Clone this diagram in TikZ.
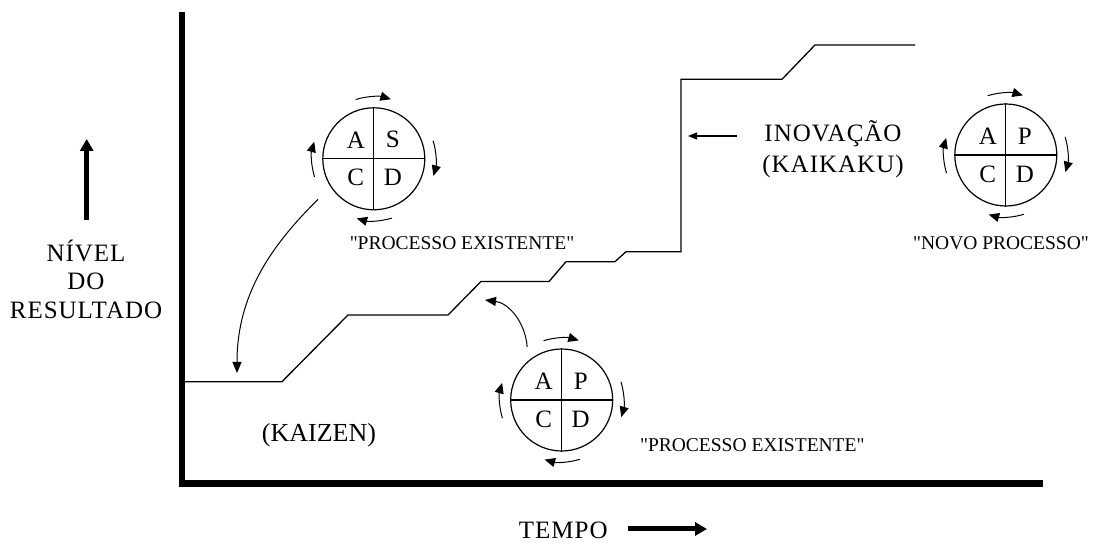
\documentclass[tikz,border=0pt]{standalone}
\usepackage{fontspec}
\setmainfont{Liberation Serif}
\newfontfamily\widefont[LetterSpace=4]{Liberation Serif}
\newfontfamily\capfont[Ligatures=TeXOff]{Liberation Serif}
\usetikzlibrary{arrows.meta}

\begin{document}
\begin{tikzpicture}[x=1pt,y=1pt,
  axis/.style={line width=6.5pt},
  stair/.style={line width=1.3pt, line join=miter},
  pdca/.style={circle, draw, line width=1.2pt, minimum size=102pt, inner sep=0pt},
  letter/.style={font=\fontsize{25}{25}\selectfont, inner sep=0pt},
  cyc/.style={line width=1pt, -{Triangle[length=10.5pt,width=9pt]}},
  bendarrow/.style={line width=1pt, -{Triangle[length=11pt,width=9pt]}},
  biglabel/.style={font=\widefont\fontsize{25}{29}\selectfont, inner sep=0pt, anchor=base},
  smalllabel/.style={font=\capfont\fontsize{19.5}{22}\selectfont, inner sep=0pt, anchor=base},
  thickarrow/.style={line width=5pt, -{Triangle[length=12pt,width=13pt]}}
]
\useasboundingbox (0,0) rectangle (1098,543);

% axes
\coordinate (ytop) at (182,531.3);
\coordinate (origin) at (182,59.5);
\coordinate (xend) at (1043,59.5);
\draw[axis] (ytop) -- (origin) -- (xend);

% result level: small kaizen steps, then the kaikaku jump
\draw[stair] (182,161.3) -- (282,161.3) -- (348,228) -- (448,228)
  -- (481,261.5) -- (549,261.5) -- (566,281.3) -- (615,281.3)
  -- (626,291.3) -- (681,291.3) -- (681,463.7) -- (782,463.7)
  -- (815,498) -- (915,498);

% PDCA wheels
\node[pdca] (c1) at (373.8,384.2) {};
\node[pdca] (c2) at (561.7,143) {};
\node[pdca] (c3) at (1005.8,388) {};
\foreach \c in {c1,c2,c3}{
  \draw[line width=1.2pt] (\c.north) -- (\c.south);
  \draw[line width=1.2pt] (\c.west) -- (\c.east);
  \draw[cyc] ([shift={(107:62)}]\c.center) arc[start angle=107, end angle=74, radius=62];
  \draw[cyc] ([shift={(17:62)}]\c.center) arc[start angle=17, end angle=-16, radius=62];
  \draw[cyc] ([shift={(-73:62)}]\c.center) arc[start angle=-73, end angle=-106, radius=62];
  \draw[cyc] ([shift={(197:62)}]\c.center) arc[start angle=197, end angle=164, radius=62];
}
\node[letter] (c1a) at ([shift={(-18,19)}]c1.center) {A};
\node[letter] (c1s) at ([shift={(19,19)}]c1.center) {S};
\node[letter] (c1c) at ([shift={(-18,-19)}]c1.center) {C};
\node[letter] (c1d) at ([shift={(19,-19)}]c1.center) {D};
\node[letter] (c2a) at ([shift={(-18,19)}]c2.center) {A};
\node[letter] (c2p) at ([shift={(19,19)}]c2.center) {P};
\node[letter] (c2c) at ([shift={(-18,-19)}]c2.center) {C};
\node[letter] (c2d) at ([shift={(19,-19)}]c2.center) {D};
\node[letter] (c3a) at ([shift={(-18,19)}]c3.center) {A};
\node[letter] (c3p) at ([shift={(19,19)}]c3.center) {P};
\node[letter] (c3c) at ([shift={(-18,-19)}]c3.center) {C};
\node[letter] (c3d) at ([shift={(19,-19)}]c3.center) {D};

% wheel captions
\node[smalllabel] (p1) at (462,293) {"PROCESSO EXISTENTE"};
\node[smalllabel] (p2) at (752.3,91.3) {"PROCESSO EXISTENTE"};
\node[smalllabel] (p3) at (1001,293) {"NOVO PROCESSO"};

% curved arrows from the wheels to the curve
\coordinate (kz) at (237,170);
\draw[bendarrow] ([shift={(216:69)}]c1.center) .. controls (273,299) and (237,250) .. (kz);
\coordinate (st) at (485,243);
\draw[bendarrow] ([shift={(123:63.3)}]c2.center) .. controls (525,222) and (508,240) .. (st);

% innovation label and its arrow
\node[biglabel] (inov) at (833,401.3) {INOVAÇÃO};
\node[biglabel] (kaik) at (833,370) {(KAIKAKU)};
\coordinate (inA) at (737,407);
\coordinate (inB) at (688,407);
\draw[line width=1.2pt, -{Triangle[length=9pt,width=7pt]}] (inA) -- (inB);

\node[biglabel, font=\fontsize{26}{29}\selectfont] (kaizen) at (319,101.3) {(KAIZEN)};

% axis titles
\node[biglabel] (n1) at (86,281.3) {NÍVEL};
\node[biglabel] (n2) at (86,253) {DO};
\node[biglabel] (n3) at (86,224.7) {RESULTADO};
\coordinate (upA) at (86.7,323);
\coordinate (upB) at (86.7,404);
\draw[thickarrow] (upA) -- (upB);

\node[biglabel] (tempo) at (563.3,4.5) {TEMPO};
\coordinate (rtA) at (628,14);
\coordinate (rtB) at (707,14);
\draw[thickarrow] (rtA) -- (rtB);
\end{tikzpicture}
\end{document}
